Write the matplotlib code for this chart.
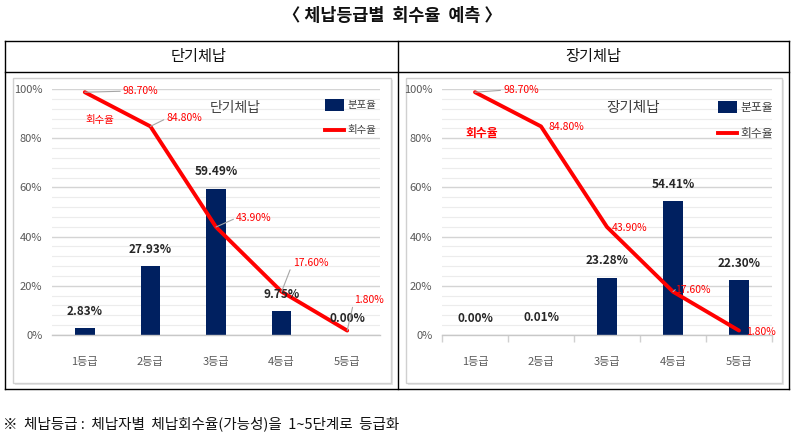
import matplotlib
matplotlib.use("Agg")
import matplotlib.pyplot as plt
from matplotlib.patches import Rectangle
from matplotlib.lines import Line2D
from matplotlib.ticker import MultipleLocator, FuncFormatter
import numpy as np

plt.rcParams['font.family'] = ['Noto Sans CJK KR', 'DejaVu Sans']

# ---- data ----
grades = ['1등급', '2등급', '3등급', '4등급', '5등급']
short_dist = [2.83, 27.93, 59.49, 9.75, 0.00]     # 단기체납 분포율 (%)
long_dist = [0.00, 0.01, 23.28, 54.41, 22.30]     # 장기체납 분포율 (%)
recovery = [98.70, 84.80, 43.90, 17.60, 1.80]     # 회수율 (%)

title = '〈 체납등급별  회수율  예측 〉'
panel_titles = ['단기체납', '장기체납']
footnote = '※  체납등급 :  체납자별  체납회수율(가능성)을  1~5단계로  등급화'

W, H = 795, 441
fig = plt.figure(figsize=(W / 100, H / 100), dpi=100)
fig.patch.set_facecolor('white')

def fx(px):
    return px / W

def fy(py):
    return 1 - py / H

# title
fig.text(fx(392), fy(16), title, ha='center', va='center', fontsize=12.5, fontweight='bold', color='#111111')

# table frame
tbl = dict(color='black', lw=1.0, transform=fig.transFigure)
fig.add_artist(Line2D([fx(5), fx(789)], [fy(40.5), fy(40.5)], **tbl))
fig.add_artist(Line2D([fx(5), fx(789)], [fy(72), fy(72)], **tbl))
fig.add_artist(Line2D([fx(5), fx(789)], [fy(389), fy(389)], **tbl))
fig.add_artist(Line2D([fx(5), fx(5)], [fy(40.5), fy(389)], **tbl))
fig.add_artist(Line2D([fx(789), fx(789)], [fy(40.5), fy(389)], **tbl))
fig.add_artist(Line2D([fx(397.5), fx(397.5)], [fy(40.5), fy(389)], **tbl))
fig.text(fx(199), fy(56), panel_titles[0], ha='center', va='center', fontsize=11, color='#111111')
fig.text(fx(593), fy(56), panel_titles[1], ha='center', va='center', fontsize=11, color='#111111')

# chart image boxes
for x0, x1 in [(13, 391), (406, 782)]:
    fig.add_artist(Rectangle((fx(x0 + 1.5), fy(384.5)), fx(x1 - x0), (383 - 78) / H,
                             transform=fig.transFigure, facecolor='#e6e6e6', edgecolor='none', zorder=-2))
    fig.add_artist(Rectangle((fx(x0), fy(383)), fx(x1 - x0), (383 - 78) / H,
                             transform=fig.transFigure, facecolor='white', edgecolor='#d0d0d0', lw=1.0, zorder=-1))

panels = [
    dict(left=52, right=380, dist=short_dist, name=panel_titles[0],
         rec_offsets=[(56, 1), (34, 8), (38, 9), (29, 29), (22, 31)],
         rec_leader=[True, True, True, True, True],
         name_pos=(235, 108), name_size=10,
         rlabel_pos=(100, 120), rlabel_size=7.5, rlabel_bold=False,
         leg_x=325, leg_y=(105, 130), leg_size=7.5, xticks_marks=False),
    dict(left=442, right=772, dist=long_dist, name=panel_titles[1],
         rec_offsets=[(46, 2), (25, -1), (23, -1), (20, 2), (22, -1)],
         rec_leader=[True, False, False, True, False],
         name_pos=(633, 108), name_size=10.5,
         rlabel_pos=(482, 133), rlabel_size=8.5, rlabel_bold=True,
         leg_x=718, leg_y=(107, 133), leg_size=8.5, xticks_marks=True),
]

top_px, bot_px = 89, 335
x = np.arange(len(grades))

for p in panels:
    ax = fig.add_axes([fx(p['left']), fy(bot_px), fx(p['right'] - p['left']), (bot_px - top_px) / H])
    ax.set_zorder(2)
    ax.set_facecolor('none')
    ax.set_xlim(-0.5, len(grades) - 0.5)
    ax.set_ylim(0, 100)
    ax.yaxis.set_major_locator(MultipleLocator(20))
    ax.yaxis.set_minor_locator(MultipleLocator(4))
    ax.yaxis.set_major_formatter(FuncFormatter(lambda v, pos: f'{v:.0f}%'))
    ax.grid(axis='y', which='major', color='#d4d4d4', lw=1.0, zorder=0)
    ax.grid(axis='y', which='minor', color='#ececec', lw=0.8, zorder=0)
    ax.set_axisbelow(True)
    for s in ['top', 'right', 'left']:
        ax.spines[s].set_visible(False)
    ax.spines['bottom'].set_color('#c8c8c8')
    ax.spines['bottom'].set_linewidth(1.0)
    ax.tick_params(axis='y', which='both', length=0, pad=7, labelsize=8, labelcolor='#595959')
    ax.set_xticks(x)
    ax.set_xticklabels(grades)
    ax.tick_params(axis='x', length=0, pad=16, labelsize=8, labelcolor='#595959')
    if p['xticks_marks']:
        ax.set_xticks(np.arange(len(grades) + 1) - 0.5, minor=True)
        ax.tick_params(axis='x', which='minor', length=5, color='#d0d0d0', width=1)

    ax.bar(x, p['dist'], width=0.3, color='#002060', zorder=2, label='분포율')
    for xi, v in zip(x, p['dist']):
        ax.annotate(f'{v:.2f}%', (xi, v), xytext=(0, 17), textcoords='offset pixels',
                    ha='center', va='center', fontsize=8.5, fontweight='bold', color='#262626', zorder=5)

    ax.plot(x, recovery, color='#ff0000', lw=2.8, zorder=3, solid_capstyle='round', label='회수율')
    for xi, v, off, lead in zip(x, recovery, p['rec_offsets'], p['rec_leader']):
        ax.annotate(f'{v:.2f}%', (xi, v), xytext=off, textcoords='offset pixels',
                    ha='center', va='center', fontsize=7.5, color='#ff0000', zorder=6,
                    arrowprops=dict(arrowstyle='-', color='#a6a6a6', lw=0.8, shrinkA=0, shrinkB=0,
                                    relpos=(0, 0.5)) if lead else None)

    fig.text(fx(p['name_pos'][0]), fy(p['name_pos'][1]), p['name'], ha='center', va='center',
             fontsize=p['name_size'], color='#404040', zorder=5)
    fig.text(fx(p['rlabel_pos'][0]), fy(p['rlabel_pos'][1]), '회수율', ha='center', va='center',
             fontsize=p['rlabel_size'], color='#ff0000',
             fontweight='bold' if p['rlabel_bold'] else 'normal', zorder=5)

    # legend
    lx = p['leg_x']
    ly1, ly2 = p['leg_y']
    fig.add_artist(Rectangle((fx(lx), fy(ly1 + 6)), fx(19), 12 / H, transform=fig.transFigure,
                             facecolor='#002060', edgecolor='none', zorder=5))
    fig.add_artist(Line2D([fx(lx), fx(lx + 19)], [fy(ly2), fy(ly2)], transform=fig.transFigure,
                          color='#ff0000', lw=2.8, zorder=5))
    fig.text(fx(lx + 22), fy(ly1), '분포율', ha='left', va='center', fontsize=p['leg_size'],
             color='#404040', zorder=5)
    fig.text(fx(lx + 22), fy(ly2), '회수율', ha='left', va='center', fontsize=p['leg_size'],
             color='#404040', zorder=5)

fig.text(fx(3), fy(424), footnote, ha='left', va='center', fontsize=10.5, color='#111111')

fig.savefig('out.png', dpi=100, facecolor='white')
